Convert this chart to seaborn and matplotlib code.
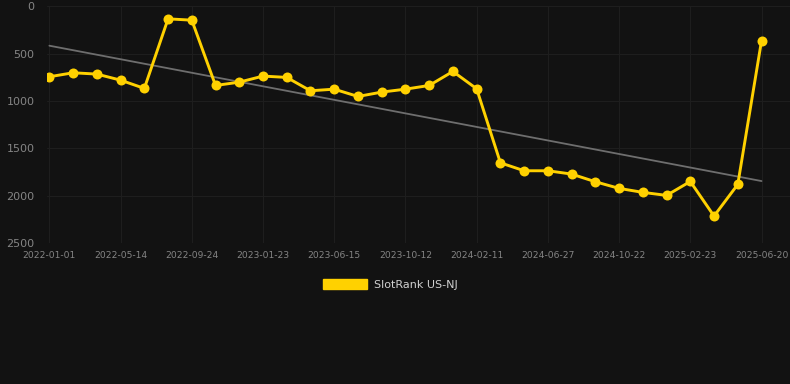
import numpy as np
import pandas as pd
import seaborn as sns
import matplotlib.pyplot as plt
from matplotlib.patches import Patch

# rank per sample (lower is better, so the axis is flipped)
ranks = [745, 703, 717, 781, 868, 134, 148, 837, 802, 738, 752, 893, 876, 953, 907,
         876, 837, 689, 872, 1653, 1737, 1737, 1772, 1853, 1923, 1965, 1997, 1850,
         2215, 1881, 366]
tick_labels = ['2022-01-01', '2022-05-14', '2022-09-24', '2023-01-23', '2023-06-15',
               '2023-10-12', '2024-02-11', '2024-06-27', '2024-10-22', '2025-02-23',
               '2025-06-20']
series_name = 'SlotRank US-NJ'

bg = '#121212'
gold = '#FFD100'

df = pd.DataFrame({'idx': np.arange(len(ranks)), 'rank': ranks})

sns.set_style('dark')
fig = plt.figure(figsize=(7.9, 3.84), dpi=100, facecolor=bg)
ax = fig.add_axes([0.0595, 0.367, 0.9405, 0.617])
ax.set_facecolor(bg)

# trend line first so the series sits on top
sns.regplot(data=df, x='idx', y='rank', scatter=False, ci=None, ax=ax,
            line_kws={'color': '#6e6e6e', 'lw': 1.3})
sns.lineplot(data=df, x='idx', y='rank', ax=ax, color=gold, lw=2.1,
             marker='o', markersize=7.2, markeredgewidth=0, legend=False)

ax.set_ylim(2500, 0)
ax.set_xlim(-0.1, 31.2)
ax.set_yticks([0, 500, 1000, 1500, 2000, 2500])
ax.set_xticks(np.arange(0, len(ranks), 3))
ax.set_xticklabels(tick_labels)
ax.tick_params(axis='y', colors='#858585', labelsize=8, length=0, pad=9)
ax.tick_params(axis='x', colors='#858585', labelsize=6.6, length=0, pad=6)
ax.grid(True, color='#1e1e1e', lw=0.8)
ax.set_xlabel('')
ax.set_ylabel('')
for s in ax.spines.values():
    s.set_visible(False)

fig.legend(handles=[Patch(facecolor=gold, edgecolor=gold, label=series_name)],
           loc='center', bbox_to_anchor=(0.494, 0.26), frameon=False,
           handlelength=4.0, handleheight=1.0, handletextpad=0.6,
           labelcolor='#d0d0d0', fontsize=8)

fig.savefig('out.png', dpi=100, facecolor=bg)
